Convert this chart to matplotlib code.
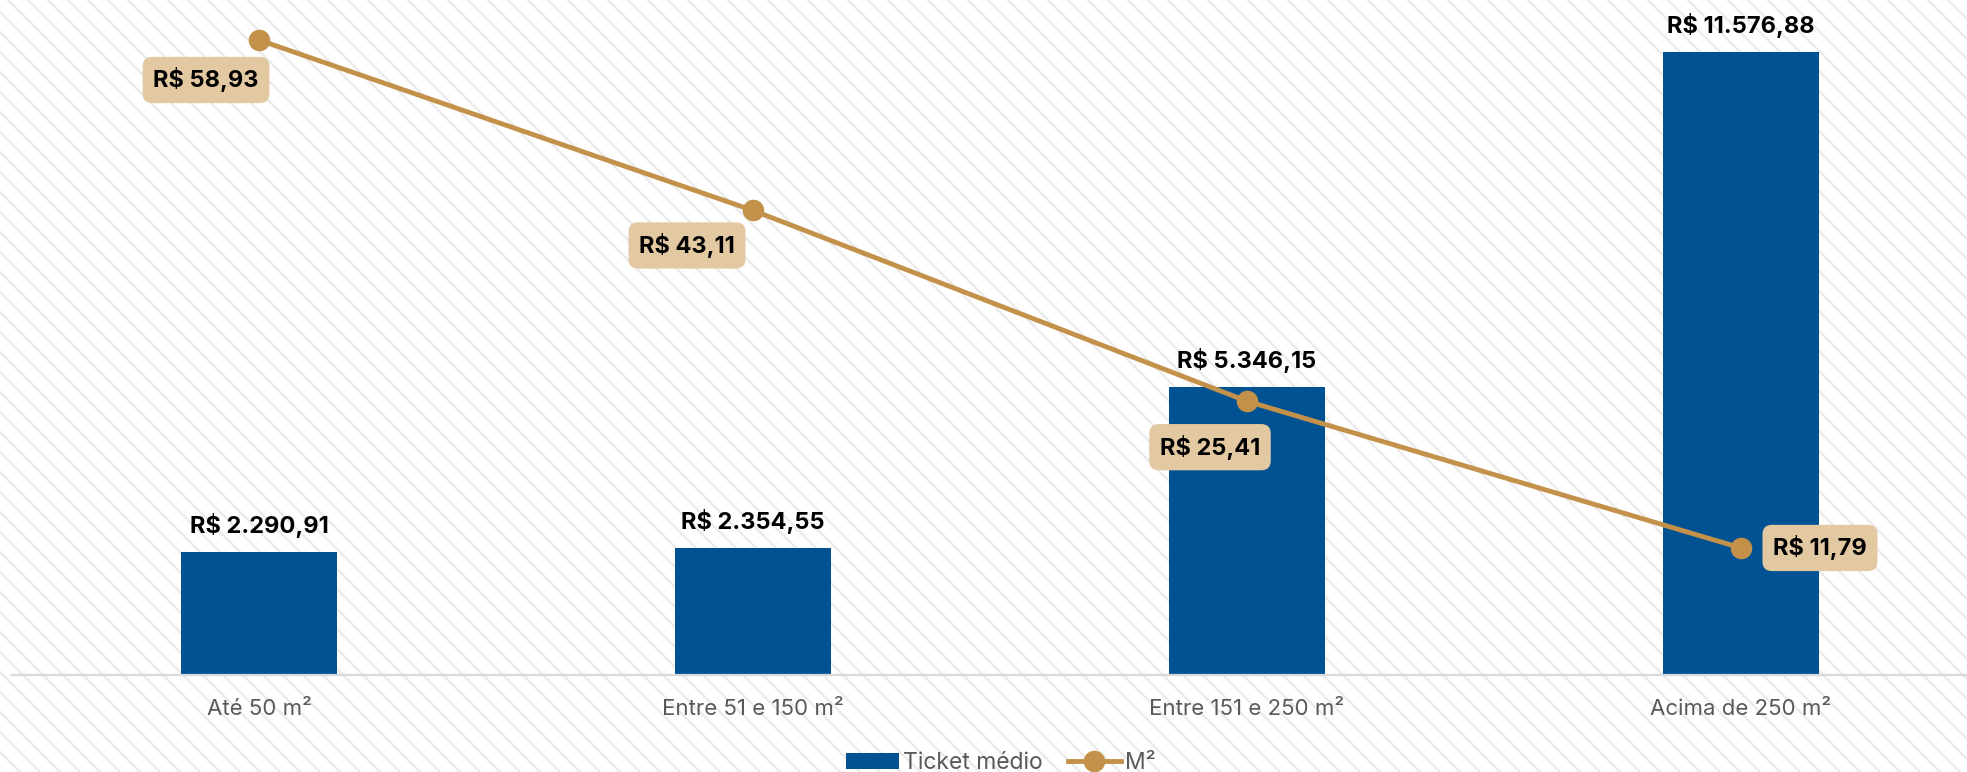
import numpy as np
import matplotlib
matplotlib.use('Agg')
import matplotlib.pyplot as plt
from matplotlib.collections import LineCollection

# data
categories = ['Até 50 m²', 'Entre 51 e 150 m²', 'Entre 151 e 250 m²', 'Acima de 250 m²']
ticket_medio = [2290.91, 2354.55, 5346.15, 11576.88]
preco_m2 = [58.93, 43.11, 25.41, 11.79]

ticket_labels = ['R$ 2.290,91', 'R$ 2.354,55', 'R$ 5.346,15', 'R$ 11.576,88']
m2_labels = ['R$ 58,93', 'R$ 43,11', 'R$ 25,41', 'R$ 11,79']

# colours
BAR = '#005293'
LINE = '#c4914a'
BOX = '#e2c9a2'
GRAY_TXT = '#595959'

plt.rcParams['font.family'] = ['Inter', 'DejaVu Sans']

fig = plt.figure(figsize=(19.67, 7.72), dpi=100)
fig.patch.set_facecolor('white')

# diagonal stripes in the background
W, H = 19.67, 7.72
step = 0.20
segs = []
for c in np.arange(0, W + H + step, step):
    segs.append([(c - H - 1, H + 1), (c + 1, -1)])
stripes = LineCollection(segs, colors='#ebebeb', linewidths=1.8,
                         transform=fig.dpi_scale_trans, zorder=-5)
fig.add_artist(stripes)

ax = fig.add_axes([12 / 1967, 97 / 772, 1976 / 1967, 675 / 772])
ax.set_facecolor('none')
x = np.arange(len(categories))

bars = ax.bar(x, ticket_medio, width=0.315, color=BAR, label='Ticket médio', zorder=2)
ax.set_xlim(-0.5, 3.5)
ax.set_ylim(0, 12537)

# bar value labels
for xi, v, lab in zip(x, ticket_medio, ticket_labels):
    ax.annotate(lab, (xi, v), xytext=(0, 19), textcoords='offset pixels',
                ha='center', va='baseline', fontsize=17, fontweight='bold', color='black')

ax.set_xticks(x)
ax.set_xticklabels(categories, fontsize=16, color=GRAY_TXT)
ax.tick_params(axis='x', length=0, pad=17)
ax.set_yticks([])
for s in ['top', 'left', 'right']:
    ax.spines[s].set_visible(False)
ax.spines['bottom'].set_color('#d9d9d9')
ax.spines['bottom'].set_linewidth(1.6)

# secondary axis for price per m2
ax2 = ax.twinx()
ax2.set_ylim(0, 62.64)
ax2.set_yticks([])
for s in ax2.spines.values():
    s.set_visible(False)
line, = ax2.plot(x, preco_m2, color=LINE, lw=3.5, marker='o', markersize=14.5,
                 label='M²', zorder=3)

# label boxes, placed by hand like the original
offsets = [(-53, -40), (-66, -35), (-37, -46), (79, 0)]
for xi, v, lab, off in zip(x, preco_m2, m2_labels, offsets):
    ax2.annotate(lab, (xi, v), xytext=off, textcoords='offset pixels',
                 ha='center', va='center', fontsize=17, fontweight='bold', color='black',
                 bbox=dict(boxstyle='round,pad=0.45,rounding_size=0.4', fc=BOX, ec='none'),
                 zorder=4)

leg = fig.legend([bars, line], ['Ticket médio', 'M²'], loc='center',
                 bbox_to_anchor=(1001 / 1967, 9 / 772), ncol=2, frameon=False,
                 fontsize=16.5, handlelength=2.3, handletextpad=0.2, columnspacing=1.1)
for t in leg.get_texts():
    t.set_color(GRAY_TXT)

fig.savefig('out.png', dpi=100, facecolor='white')
